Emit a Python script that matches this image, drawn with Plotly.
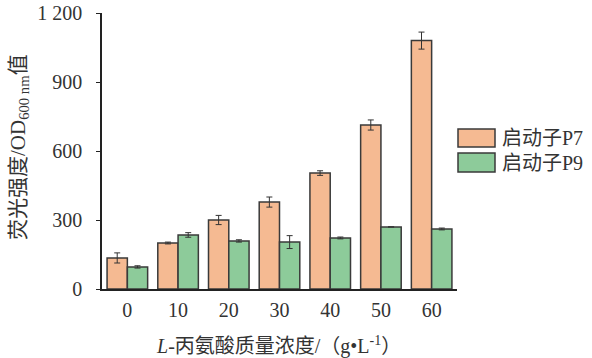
import plotly.graph_objects as go

categories = ["0", "10", "20", "30", "40", "50", "60"]
p7_values = [135, 200, 300, 378, 504, 713, 1080]
p7_errors = [22, 4, 20, 22, 10, 22, 37]
p9_values = [96, 235, 209, 204, 222, 270, 261]
p9_errors = [5, 10, 5, 28, 4, 0, 4]
series_names = ["启动子P7", "启动子P9"]
y_tickvals = [0, 300, 600, 900, 1200]
y_ticktext = ["0", "300", "600", "900", "1 200"]
x_title = "<i>L</i>-丙氨酸质量浓度/（g•L<sup>-1</sup>）"
y_title = "荧光强度/OD<sub>600 nm</sub>值"

colors = ["#F5BA92", "#8DCB9A"]
edge = "#3a3a3a"
font_family = "Liberation Serif, Times New Roman, Noto Sans CJK SC, serif"

fig = go.Figure()
for name, vals, errs, col in zip(series_names, [p7_values, p9_values], [p7_errors, p9_errors], colors):
    fig.add_trace(go.Bar(
        x=categories, y=vals, name=name,
        marker=dict(color=col, line=dict(color=edge, width=1.5)),
        error_y=dict(type="data", array=errs, visible=True, color="#333", thickness=1, width=3),
        showlegend=False,
    ))

L, R, T, B = 102, 135, 13, 69
W, H = 592, 358
pw, ph = W - L - R, H - T - B

def px_x(x):
    return (x - L) / pw

def px_y(y):
    return (H - B - y) / ph

# custom legend
legend_rows = [(129, 147), (153, 172)]
for (y0, y1), name, col in zip(legend_rows, series_names, colors):
    fig.add_shape(type="rect", xref="paper", yref="paper",
                  x0=px_x(458), x1=px_x(495), y0=px_y(y1), y1=px_y(y0),
                  fillcolor=col, line=dict(color=edge, width=1.5))
    fig.add_annotation(xref="paper", yref="paper", x=px_x(500), y=px_y((y0 + y1) / 2),
                       text=name, showarrow=False, xanchor="left", yanchor="middle",
                       font=dict(family=font_family, size=20, color="#333"))

fig.add_annotation(xref="paper", yref="paper", x=px_x(19), y=px_y(147),
                   text=y_title, textangle=-90, showarrow=False,
                   xanchor="center", yanchor="middle",
                   font=dict(family=font_family, size=21, color="#333"))
fig.add_annotation(xref="paper", yref="paper", x=px_x(278), y=px_y(345),
                   text=x_title, showarrow=False, xanchor="center", yanchor="middle",
                   font=dict(family=font_family, size=20, color="#333"))

fig.update_layout(
    width=W, height=H,
    margin=dict(l=L, r=R, t=T, b=B, pad=0, autoexpand=False),
    paper_bgcolor="white", plot_bgcolor="white",
    barmode="group", bargap=0.2, bargroupgap=0,
    font=dict(family=font_family, size=18, color="#333"),
)
fig.update_xaxes(showline=True, linecolor="#222", linewidth=1.5, ticks="",
                 showgrid=False, zeroline=False, automargin=False,
                 ticklabelstandoff=2,
                 tickfont=dict(family=font_family, size=20, color="#333"))
fig.update_yaxes(range=[0, 1200], tickvals=y_tickvals, ticktext=y_ticktext,
                 showline=True, linecolor="#222", linewidth=1.5,
                 ticks="outside", ticklen=4, tickwidth=1.2, tickcolor="#222",
                 showgrid=False, zeroline=False, automargin=False,
                 ticklabelstandoff=10,
                 tickfont=dict(family=font_family, size=20, color="#333"))

fig.write_html("out.html", config={"displayModeBar": False},
               post_script="document.body.style.margin='0';")
